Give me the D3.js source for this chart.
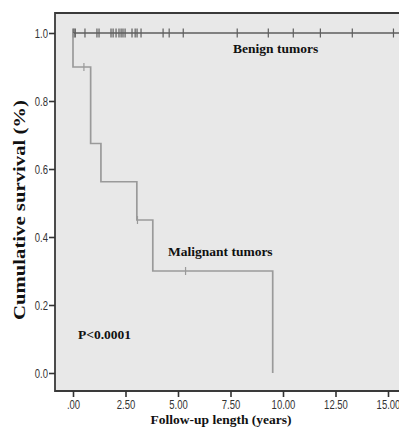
<!DOCTYPE html>
<html><head><meta charset="utf-8">
<script src="https://cdn.jsdelivr.net/npm/d3@7"></script>
<style>body{margin:0;background:#fff}svg{display:block}</style>
</head><body>
<script>
// ---- data ----
const xTickValues = [0, 2.5, 5, 7.5, 10, 12.5, 15];
const xTickLabels = [".00", "2.50", "5.00", "7.50", "10.00", "12.50", "15.00"];
const yTickValues = [0, 0.2, 0.4, 0.6, 0.8, 1.0];
const yTickLabels = ["0.0", "0.2", "0.4", "0.6", "0.8", "1.0"];

// Benign tumors: no events, censored times (years)
const benignCensorTimes = [0, 0.05, 0.11, 0.57, 1.14, 1.24, 1.81, 1.91, 2.05, 2.19, 2.29, 2.38, 2.48, 2.81, 2.96, 3.05, 3.24, 4.29, 4.58, 5.25, 7.82, 9.30, 10.49, 11.78, 13.30, 15.26];
const benignEndTime = 15.7;

// Malignant tumors: step points (time, survival after step)
const malignantTimes = [0, 0, 0.84, 1.33, 3.04, 3.80, 9.51];
const malignantSurvival = [1.0, 0.90, 0.675, 0.5625, 0.45, 0.30, 0.0];
const malignantCensorTimes = [0.52, 3.07, 5.36];
const malignantCensorSurv = [0.90, 0.45, 0.30];

// ---- layout ----
const W = 399, H = 428;
const svg = d3.select("body").append("svg").attr("width", W).attr("height", H);
const plotLeft = 55, plotTop = 13, plotBottom = 391, plotRight = 410;

const x = d3.scaleLinear().domain([0, 15]).range([73, 388]);
const y = d3.scaleLinear().domain([0, 1]).range([373, 33]);

// background
svg.append("rect").attr("x", plotLeft).attr("y", plotTop)
  .attr("width", plotRight - plotLeft).attr("height", plotBottom - plotTop)
  .attr("fill", "#e8e8e8");

// frame
svg.append("path")
  .attr("d", `M${plotRight},${plotTop}H${plotLeft}V${plotBottom}H${plotRight}`)
  .attr("fill", "none").attr("stroke", "#3a3a3a").attr("stroke-width", 1.8);

// x axis
const xAxis = d3.axisBottom(x).tickValues(xTickValues)
  .tickFormat((d, i) => xTickLabels[i]).tickSize(6).tickSizeOuter(0).tickPadding(3);
const gx = svg.append("g").attr("transform", `translate(0,${plotBottom})`).call(xAxis);
gx.select(".domain").remove();
gx.selectAll(".tick line").attr("stroke", "#333").attr("stroke-width", 1.6);
gx.selectAll(".tick text")
  .attr("font-family", "Liberation Sans, Arial, sans-serif").attr("font-size", 9.5)
  .attr("fill", "#333").attr("dy", null).attr("y", 0)
  .attr("transform", "translate(0,17.5) scale(1,1.25)");

// y axis
const yAxis = d3.axisLeft(y).tickValues(yTickValues)
  .tickFormat((d, i) => yTickLabels[i]).tickSize(6).tickSizeOuter(0).tickPadding(1);
const gy = svg.append("g").attr("transform", `translate(${plotLeft},0)`).call(yAxis);
gy.select(".domain").remove();
gy.selectAll(".tick line").attr("stroke", "#333").attr("stroke-width", 1.6);
gy.selectAll(".tick text")
  .attr("font-family", "Liberation Sans, Arial, sans-serif").attr("font-size", 9.5)
  .attr("fill", "#333").attr("dy", null).attr("y", 0).attr("x", 0)
  .attr("transform", "translate(-7,4) scale(1,1.25)");

// benign line
const benignColor = "#5e5e5e";
svg.append("line")
  .attr("x1", x(0)).attr("x2", x(benignEndTime))
  .attr("y1", y(1)).attr("y2", y(1))
  .attr("stroke", benignColor).attr("stroke-width", 1.5);
svg.append("g").selectAll("line").data(benignCensorTimes).join("line")
  .attr("x1", d => x(d)).attr("x2", d => x(d))
  .attr("y1", y(1) - 4.5).attr("y2", y(1) + 4.5)
  .attr("stroke", benignColor).attr("stroke-width", 1.2);

// malignant line
const malColor = "#9a9a9a";
const malPts = malignantTimes.map((t, i) => [t, malignantSurvival[i]]);
const line = d3.line().x(d => x(d[0])).y(d => y(d[1])).curve(d3.curveStepAfter);
svg.append("path").attr("d", line(malPts))
  .attr("fill", "none").attr("stroke", malColor).attr("stroke-width", 1.7);
svg.append("g").selectAll("line").data(malignantCensorTimes).join("line")
  .attr("x1", d => x(d)).attr("x2", d => x(d))
  .attr("y1", (d, i) => y(malignantCensorSurv[i]) - 4)
  .attr("y2", (d, i) => y(malignantCensorSurv[i]) + 4)
  .attr("stroke", malColor).attr("stroke-width", 1.2);

// annotations
const serif = "Liberation Serif, 'Times New Roman', serif";
svg.append("text").attr("x", 233).attr("y", 52.5).text("Benign tumors")
  .attr("font-family", serif).attr("font-weight", "bold").attr("font-size", 13.5).attr("fill", "#111");
svg.append("text").attr("x", 168).attr("y", 255.5).text("Malignant tumors")
  .attr("font-family", serif).attr("font-weight", "bold").attr("font-size", 13.5).attr("fill", "#111");
svg.append("text").attr("x", 78).attr("y", 339).text("P<0.0001")
  .attr("font-family", serif).attr("font-weight", "bold").attr("font-size", 13.5).attr("fill", "#111");

// axis titles
svg.append("text").attr("x", 221).attr("y", 424).attr("text-anchor", "middle")
  .text("Follow-up length (years)")
  .attr("font-family", serif).attr("font-weight", "bold").attr("font-size", 13.5).attr("fill", "#111");
svg.append("text").attr("transform", "translate(25,210) rotate(-90)").attr("text-anchor", "middle")
  .text("Cumulative survival (%)")
  .attr("textLength", 220).attr("lengthAdjust", "spacingAndGlyphs")
  .attr("font-family", serif).attr("font-weight", "bold").attr("font-size", 16.5).attr("fill", "#111");
</script>
</body></html>
